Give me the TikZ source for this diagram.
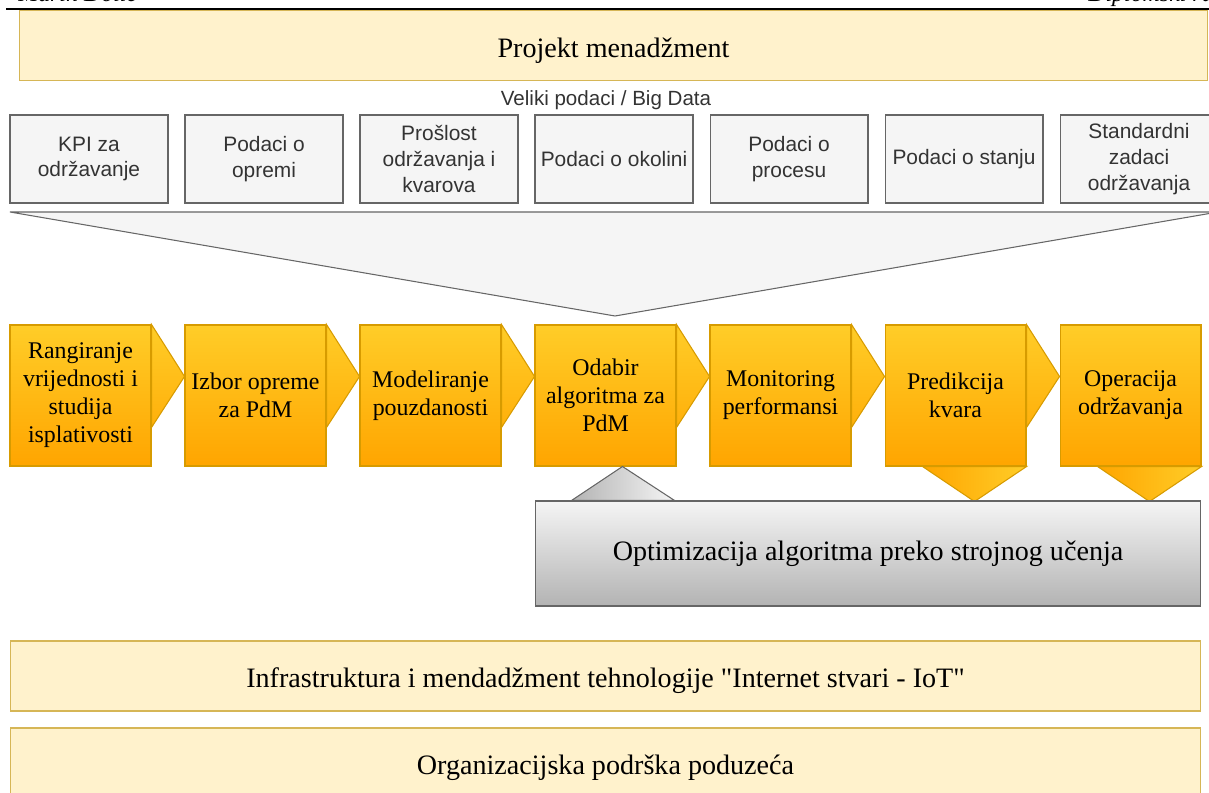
\documentclass[tikz,border=0pt]{standalone}
\usepackage{fontspec}
\setmainfont{Liberation Serif}
\setsansfont{Liberation Sans}
\usetikzlibrary{calc}

\definecolor{barfill}{HTML}{FFF2CC}
\definecolor{bardraw}{HTML}{D6B656}
\definecolor{datafill}{HTML}{F5F5F5}
\definecolor{datadraw}{HTML}{666666}
\definecolor{datatext}{HTML}{333333}
\definecolor{steptop}{HTML}{FFCD28}
\definecolor{stepbot}{HTML}{FFA500}
\definecolor{stepdraw}{HTML}{D79B00}
\definecolor{optbot}{HTML}{B3B3B3}

\tikzset{
  bar/.style = {draw = bardraw, fill = barfill, line width = 0.6pt, inner sep = 0pt, minimum height = 1.4cm, text height = 13.5pt, text depth = 0pt, font = \fontsize{16}{19}\selectfont},
  databox/.style = {draw = datadraw, fill = datafill, line width = 0.6pt, inner sep = 0pt, minimum width = 3.16cm, minimum height = 1.76cm, align = center, text = datatext, font = \sffamily\fontsize{11.9}{14.7}\selectfont},
  funnel/.style = {draw = datadraw, fill = datafill, line width = 0.6pt},
  stepbox/.style = {draw = stepdraw, top color = steptop, bottom color = stepbot, line width = 0.6pt, inner sep = 0pt, minimum width = 2.82cm, minimum height = 2.82cm, align = center, font = \fontsize{13.6}{15.9}\selectfont},
  steptip/.style = {draw = stepdraw, top color = steptop, bottom color = stepbot!73!steptop, line width = 0.6pt},
  downtip/.style = {draw = stepdraw, left color = stepbot, right color = steptop, line width = 0.6pt},
  optbox/.style = {draw = datadraw, top color = datafill, bottom color = optbot, line width = 0.6pt, inner sep = 0pt, minimum width = 13.32cm, minimum height = 2.1cm, font = \fontsize{16}{19}\selectfont},
  greytip/.style = {draw = datadraw, left color = optbot, right color = datafill, line width = 0.6pt},
  headtext/.style = {inner sep = 0pt, font = \itshape\fontsize{13.6}{16}\selectfont}
}

\begin{document}
\begin{tikzpicture}[x = 0.02cm, y = -0.02cm]
        \useasboundingbox (0, 0) rectangle (1209, 793);
        \clip (0, 0) rectangle (1209, 793);

        % page header, cut off at the top
        \node[headtext, anchor = base west] (autor) at (18, 2) {Marin Dolić};
        \node[headtext, anchor = base east] (rad) at (1226, 2) {Diplomski rad};
        \draw[line width = 0.6pt] (6, 9) -- (1209, 9);

        \node[bar, minimum width = 23.78cm] (pm) at (613.5, 45.5) {Projekt menadžment};

        \node[text = datatext, font = \sffamily\fontsize{11.7}{14}\selectfont] (bigdata) at (606, 100) {Veliki podaci / Big Data};

        \node[databox] (kpi) at (89, 159) {KPI za\\održavanje};
        \node[databox] (oprema) at (264, 159) {Podaci o\\opremi};
        \node[databox] (proslost) at (439, 159) {Prošlost\\održavanja i\\kvarova};
        \node[databox] (okolina) at (614, 159) {Podaci o okolini};
        \node[databox] (proces) at (789, 159) {Podaci o\\procesu};
        \node[databox] (stanje) at (964, 159) {Podaci o stanju};
        \node[databox] (zadaci) at (1139, 159) {Standardni\\zadaci\\održavanja};

        \draw[funnel] (10, 212) -- (1218, 212) -- (615, 316) -- cycle;

        \node[stepbox] (rang) at (80.5, 395.5) {Rangiranje\\vrijednosti i\\studija\\isplativosti};
        \node[stepbox] (izbor) at (255.5, 395.5) {Izbor opreme\\za PdM};
        \node[stepbox] (model) at (430.5, 395.5) {Modeliranje\\pouzdanosti};
        \node[stepbox] (odabir) at (605.5, 395.5) {Odabir\\algoritma za\\PdM};
        \node[stepbox] (monitor) at (780.5, 395.5) {Monitoring\\performansi};
        \node[stepbox] (predikcija) at (955.5, 395.5) {Predikcija\\kvara};
        \node[stepbox] (operacija) at (1130.5, 395.5) {Operacija\\održavanja};

        \draw[steptip] (rang.north east) -- ++(33, 52) -- ++(-33, 51) -- cycle;
        \draw[steptip] (izbor.north east) -- ++(33, 52) -- ++(-33, 51) -- cycle;
        \draw[steptip] (model.north east) -- ++(33, 52) -- ++(-33, 51) -- cycle;
        \draw[steptip] (odabir.north east) -- ++(33, 52) -- ++(-33, 51) -- cycle;
        \draw[steptip] (monitor.north east) -- ++(33, 52) -- ++(-33, 51) -- cycle;
        \draw[steptip] (predikcija.north east) -- ++(33, 52) -- ++(-33, 51) -- cycle;

        \draw[downtip] (predikcija.south east) -- ++(-52, 35) -- ++(-52, -35) -- cycle;
        \draw[downtip] (operacija.south east) -- ++(-52, 35) -- ++(-52, -35) -- cycle;

        \node[optbox] (opt) at (868, 553.5) {Optimizacija algoritma preko strojnog učenja};
        \draw[greytip] ($(opt.north west) + (37, 0)$) -- ($(opt.north west) + (140, 0)$) -- ($(odabir.south west) + (88, 0)$) -- cycle;

        \node[bar, minimum width = 23.82cm] (iot) at (605.5, 676) {Infrastruktura i mendadžment tehnologije \textquotedbl Internet stvari - IoT\textquotedbl};
        \node[bar, minimum width = 23.82cm] (podrska) at (605.5, 763) {Organizacijska podrška poduzeća};
\end{tikzpicture}
\end{document}
